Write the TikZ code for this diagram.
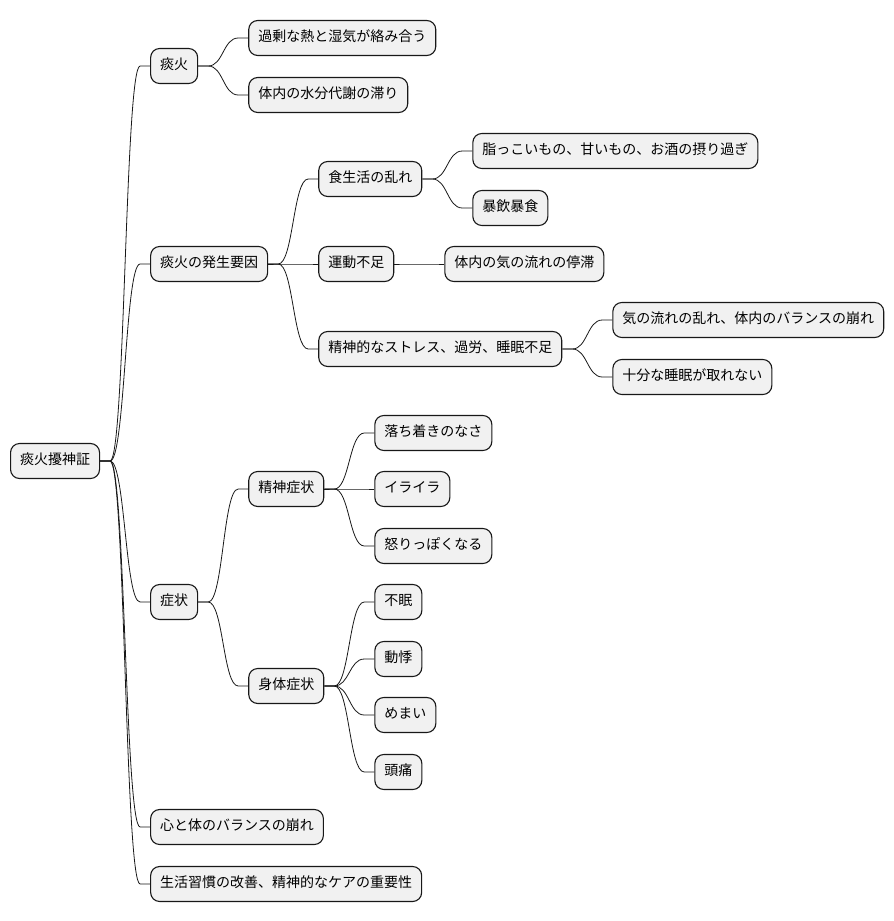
\documentclass[tikz,border=0pt]{standalone}
\usepackage{fontspec}
\setmainfont{Noto Sans CJK JP}
\usetikzlibrary{calc}
\definecolor{boxfill}{HTML}{F1F1F1}
\definecolor{boxline}{HTML}{181818}
\tikzset{
  mbox/.style={draw=boxline, fill=boxfill, line width=1.1pt, rounded corners=9pt,
    minimum height=35pt, inner xsep=9.5pt, inner ysep=0pt,
    text height=10.5pt, text depth=3pt, font=\fontsize{14pt}{16pt}\selectfont, anchor=west},
  link/.style={draw=boxline, line width=0.8pt}
}
\newcommand\kid[4]{%
  \path (#1.east) ++(50,0) coordinate (tmpx) (0,#3) coordinate (tmpy);
  \node[mbox] (#2) at (tmpx |- tmpy) {#4};
  \draw[link] (#1.east) -- ++(10,0) .. controls +(15,0) and +(-15,0) .. ([xshift=-10pt]#2.west) -- (#2.west);
}
\begin{document}
\begin{tikzpicture}[x=1pt,y=-1pt]
\useasboundingbox (0,0) rectangle (894,921);
\node[mbox] (root) at (10,461) {痰火擾神証};
\kid{root}{a}{66}{痰火}
\kid{a}{a1}{38}{過剰な熱と湿気が絡み合う}
\kid{a}{a2}{95}{体内の水分代謝の滞り}
\kid{root}{b}{264}{痰火の発生要因}
\kid{b}{b1}{179}{食生活の乱れ}
\kid{b1}{b11}{151}{脂っこいもの、甘いもの、お酒の摂り過ぎ}
\kid{b1}{b12}{208}{暴飲暴食}
\kid{b}{b2}{264}{運動不足}
\kid{b2}{b21}{264}{体内の気の流れの停滞}
\kid{b}{b3}{349}{精神的なストレス、過労、睡眠不足}
\kid{b3}{b31}{320}{気の流れの乱れ、体内のバランスの崩れ}
\kid{b3}{b32}{377}{十分な睡眠が取れない}
\kid{root}{c}{602}{症状}
\kid{c}{c1}{489}{精神症状}
\kid{c1}{c11}{433}{落ち着きのなさ}
\kid{c1}{c12}{489}{イライラ}
\kid{c1}{c13}{546}{怒りっぽくなる}
\kid{c}{c2}{686}{身体症状}
\kid{c2}{c21}{602}{不眠}
\kid{c2}{c22}{659}{動悸}
\kid{c2}{c23}{715}{めまい}
\kid{c2}{c24}{772}{頭痛}
\kid{root}{d}{827}{心と体のバランスの崩れ}
\kid{root}{e}{884}{生活習慣の改善、精神的なケアの重要性}
\end{tikzpicture}
\end{document}
